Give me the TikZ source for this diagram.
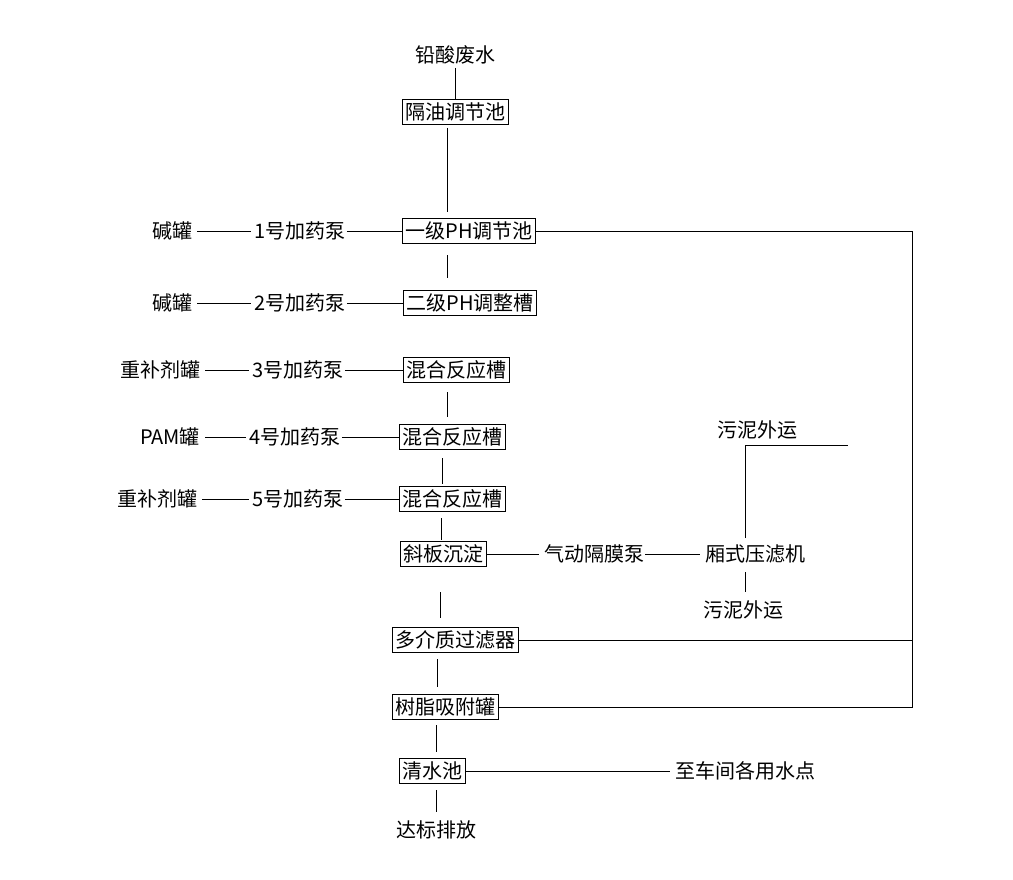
\documentclass[tikz,border=0pt]{standalone}
\usepackage{fontspec}
\setmainfont{Noto Sans CJK SC}
\usetikzlibrary{positioning}
\tikzset{
  box/.style={draw,thick,inner xsep=3pt,inner ysep=2pt,minimum height=25pt},
  txt/.style={inner sep=1pt}
}
\begin{document}
\begin{tikzpicture}[x=1pt,y=-1pt,font=\fontsize{20}{22}\selectfont]
\useasboundingbox (0,0) rectangle (1013,880);
% main line
\node[txt] (src) at (455,55) {铅酸废水};
\node[box] (t0) at (455,112) {隔油调节池};
\node[box] (t1) at (469,231) {一级PH调节池};
\node[box] (t2) at (470,303) {二级PH调整槽};
\node[box] (t3) at (456,370) {混合反应槽};
\node[box] (t4) at (452,437) {混合反应槽};
\node[box] (t5) at (452,499) {混合反应槽};
\node[box] (t6) at (443,554) {斜板沉淀};
\node[box] (t7) at (455,640) {多介质过滤器};
\node[box] (t8) at (445,707) {树脂吸附罐};
\node[box] (t9) at (432,771) {清水池};
\node[txt] (out) at (436,830) {达标排放};
% dosing
\node[txt] (k1) at (172,231) {碱罐};
\node[txt] (p1) at (300,231) {1号加药泵};
\node[txt] (k2) at (172,303) {碱罐};
\node[txt] (p2) at (300,303) {2号加药泵};
\node[txt] (k3) at (160,370) {重补剂罐};
\node[txt] (p3) at (298,370) {3号加药泵};
\node[txt] (k4) at (170,437) {PAM罐};
\node[txt] (p4) at (295,437) {4号加药泵};
\node[txt] (k5) at (157,499) {重补剂罐};
\node[txt] (p5) at (298,499) {5号加药泵};
\foreach \i in {1,...,5}{
  \draw[thick,shorten <=4pt,shorten >=2pt] (k\i) -- (p\i);
  \draw[thick] (p\i) -- (t\i);
}
% sludge
\node[txt] (dp) at (594,554) {气动隔膜泵};
\node[txt] (fp) at (755,554) {厢式压滤机};
\node[txt] (s1) at (757,430) {污泥外运};
\node[txt] (s2) at (743,610) {污泥外运};
\node[txt] (use) at (745,771) {至车间各用水点};
\coordinate (c1) at (848,445);
\coordinate (r0) at (912,231);
\draw[thick,shorten >=4pt] (t6) -- (dp);
\draw[thick,shorten >=4pt] (dp) -- (fp);
\draw[thick] (745,538) |- (c1);
\draw[thick] (745,572) -- (745,592);
\draw[thick,shorten >=4pt] (t9) -- (use);
% return line
\draw[thick] (t1.east) -- (r0) -- (r0 |- t8.east) -- (t8.east);
\draw[thick] (t7.east) -- (t7.east -| r0);
% vertical links
\draw[thick] (455,68) -- (t0.north);
\draw[thick] (447,128) -- (447,212);
\draw[thick] (447,255) -- (447,278);
\draw[thick] (447,392) -- (447,417);
\draw[thick] (442,458) -- (442,484);
\draw[thick] (441,518) -- (441,540);
\draw[thick] (440,592) -- (440,618);
\draw[thick] (437,659) -- (437,687);
\draw[thick] (436,725) -- (436,752);
\draw[thick] (436,790) -- (436,812);
\end{tikzpicture}
\end{document}
